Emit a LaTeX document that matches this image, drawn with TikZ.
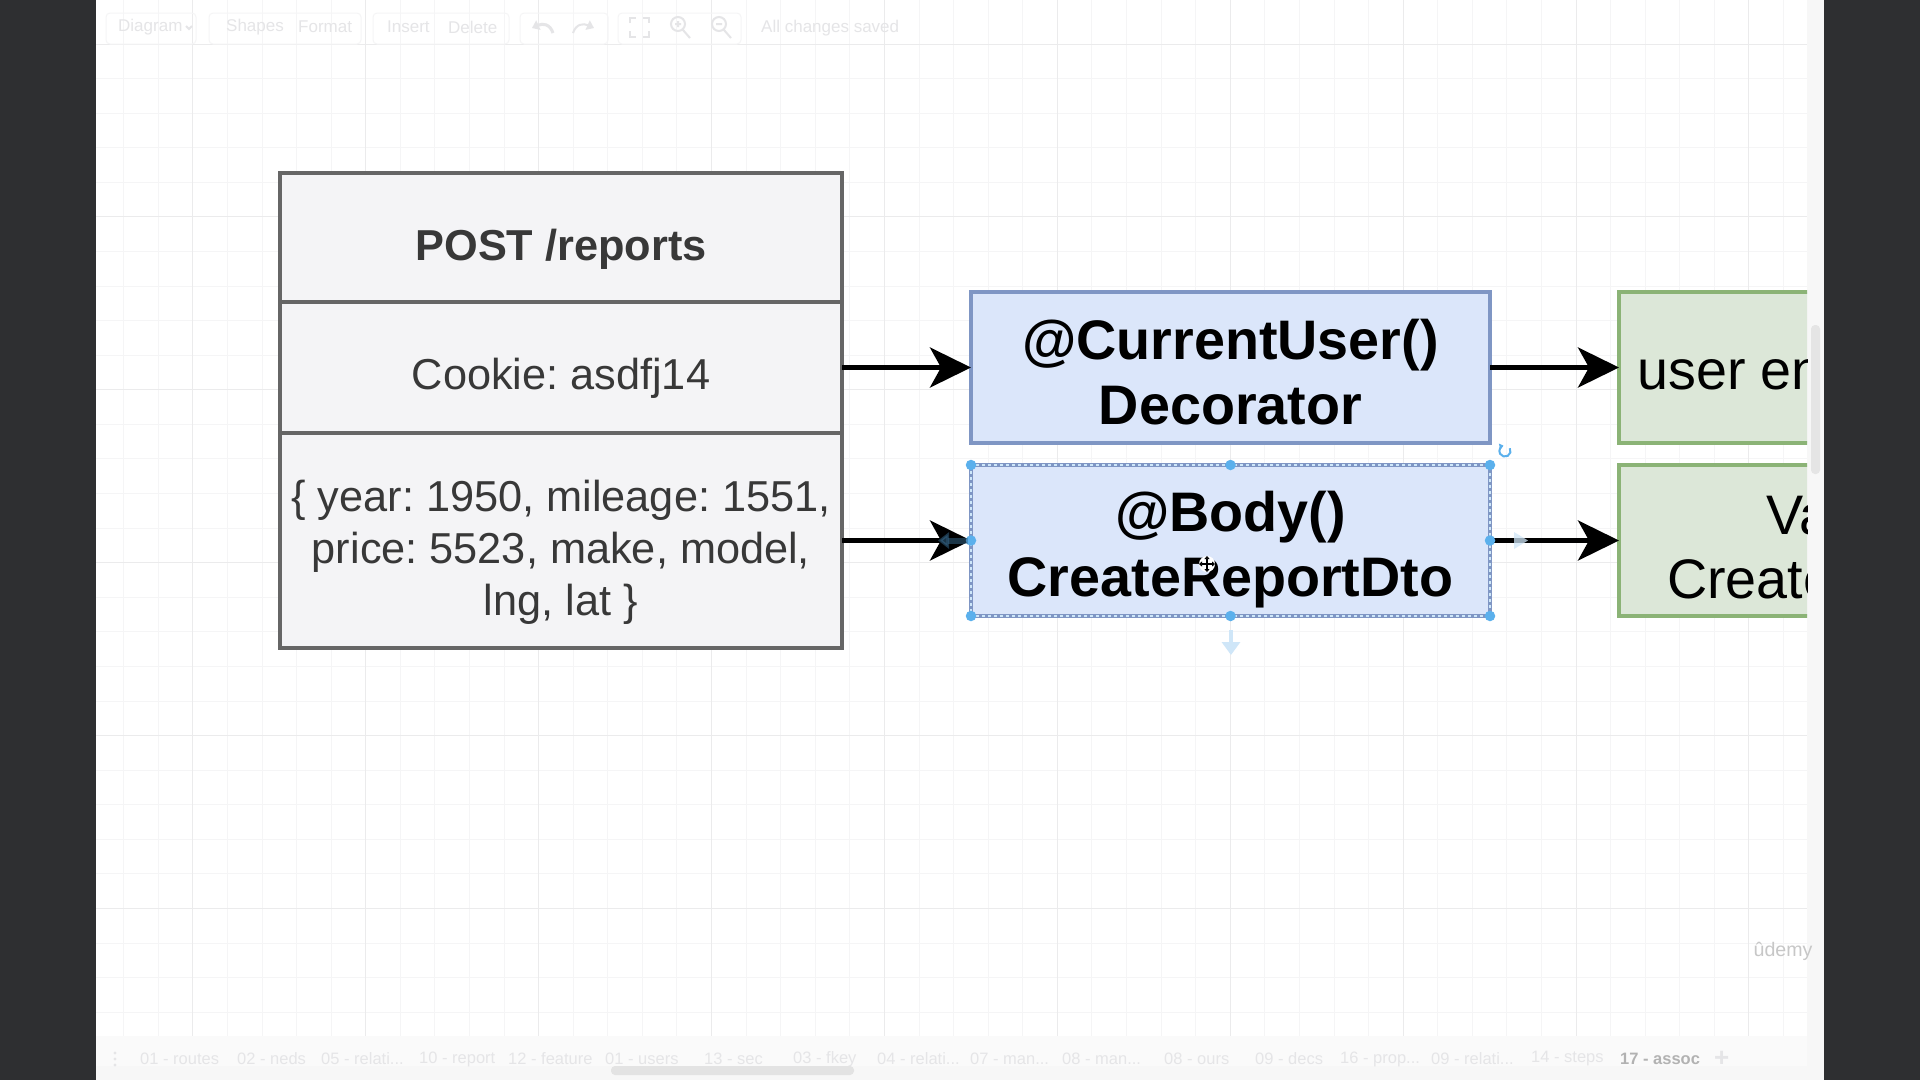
\documentclass[tikz,border=0pt]{standalone}
\usepackage{fontspec}
\setmainfont{Liberation Sans}
\usetikzlibrary{arrows.meta}
\AtBeginDocument{\frenchspacing}
\newcommand{\lowerby}[1]{\rule{0pt}{#1pt}}
\definecolor{darkside}{HTML}{2E2F31}
\definecolor{gridminor}{HTML}{F5F5F6}
\definecolor{gridmajor}{HTML}{EBEBEC}
\definecolor{tablefill}{HTML}{F4F4F6}
\definecolor{tableline}{HTML}{666666}
\definecolor{bluefill}{HTML}{DBE6FA}
\definecolor{blueline}{HTML}{7F96C4}
\definecolor{greenfill}{HTML}{DCE7D8}
\definecolor{greenline}{HTML}{8BB376}
\definecolor{handle}{HTML}{5BB0EC}
\definecolor{ghost}{HTML}{CFE6F8}
\definecolor{faint}{HTML}{E5E5E7}
\tikzset{
 cell/.style={draw=tableline,fill=tablefill,line width=4.2pt,minimum width=562pt,inner sep=0pt,outer sep=0pt,align=center,text=black!78,font=\fontsize{43.3}{52}\selectfont},
 bluebox/.style={draw=blueline,fill=bluefill,line width=4.4pt,minimum width=519pt,minimum height=151pt,inner sep=0pt,outer sep=0pt,align=center,font=\bfseries\fontsize{55.7}{65}\selectfont},
 greenbox/.style={draw=greenline,fill=greenfill,line width=4.4pt,minimum width=520pt,minimum height=151pt,inner sep=0pt,outer sep=0pt},
 greentext/.style={anchor=base west,inner sep=0pt,font=\fontsize{55.7}{65}\selectfont},
 flow/.style={line width=4.6pt,-{Stealth[length=41pt,width=40pt,inset=11pt]}},
 dot/.style={circle,fill=handle,minimum size=10.5pt,inner sep=0pt},
 ghostarrow/.style={line width=4pt,ghost,-{Triangle[length=13pt,width=18pt]}},
 menutext/.style={anchor=west,inner sep=0pt,text=faint,font=\fontsize{17}{20}\selectfont},
 tabtext/.style={anchor=west,inner sep=0pt,text=faint,font=\fontsize{16.5}{20}\selectfont},
 panel/.style={draw=gridminor,line width=1pt,rounded corners=4pt},
 iconline/.style={draw=faint,line width=2pt}
}
\begin{document}
\begin{tikzpicture}[x=1pt,y=-1pt]
\useasboundingbox (0,0) rectangle (1920,1080);
\fill[white] (0,0) rectangle (1920,1080);
% canvas grid
\begin{scope}
\clip (96,0) rectangle (1807,1080);
\foreach \i in {0,...,50} {
  \draw[gridminor,line width=1pt] ({123.7+34.58*\i},0) -- ({123.7+34.58*\i},1080);
}
\foreach \i in {0,...,31} {
  \draw[gridminor,line width=1pt] (96,{44+34.58*\i}) -- (1807,{44+34.58*\i});
}
\foreach \i in {0,...,9} {
  \draw[gridmajor,line width=1pt] ({192.8+172.9*\i},0) -- ({192.8+172.9*\i},1080);
}
\foreach \i in {0,...,5} {
  \draw[gridmajor,line width=1pt] (96,{44+172.9*\i}) -- (1807,{44+172.9*\i});
}
\end{scope}
% toolbar
\draw[panel] (106,13) rectangle (196,44);
\draw[panel] (209,13) rectangle (361,44);
\draw[panel] (373,13) rectangle (509,44);
\draw[panel] (520,13) rectangle (608,44);
\draw[panel] (618,13) rectangle (741,44);
\node[menutext] (mdiagram) at (118,27) {Diagram};
\node[menutext] (mshapes) at (226,27) {Shapes};
\node[menutext] (mformat) at (298,27) {Format};
\node[menutext] (minsert) at (387,27) {Insert};
\node[menutext] (mdelete) at (448,27) {Delete};
\node[menutext] (msaved) at (761,28) {All changes saved};
\draw[iconline] (186,26) -- (189,29) -- (192,26);
\draw[iconline,line width=3pt,-{Triangle[length=7pt,width=10pt]}] (553,33) .. controls (550,24) and (543,23) .. (532,28);
\draw[iconline,line width=2pt,-{Triangle[length=7pt,width=10pt]}] (573,33) .. controls (576,24) and (583,23) .. (594,28);
\draw[iconline] (630,23) -- (630,18) -- (636,18) (643,18) -- (649,18) -- (649,23) (630,31) -- (630,37) -- (636,37) (643,37) -- (649,37) -- (649,31);
\draw[iconline] (678,24) circle (7pt) (683,30) -- (690,38) (678,21) -- (678,27) (675,24) -- (681,24);
\draw[iconline] (719,24) circle (7pt) (724,30) -- (731,38) (716,24) -- (722,24);
% tab bar
\fill[white!98!black] (96,1036) rectangle (1807,1066);
\fill[white!97!black] (96,1066) rectangle (1807,1080);
\fill[faint] (115,1053) circle (1.7pt) (115,1059) circle (1.7pt) (115,1065) circle (1.7pt);
\foreach \t/\x in {{01 - routes}/140,{02 - neds}/237,{05 - relati...}/321,{10 - report}/419,{12 - feature}/508,{01 - users}/605,{13 - sec}/704,{03 - fkey}/793,{04 - relati...}/877,{07 - man...}/970,{08 - man...}/1062,{08 - ours}/1164,{09 - decs}/1255,{16 - prop...}/1340,{09 - relati...}/1431,{14 - steps}/1531} {
  \node[tabtext] at (\x,1059) {\t};
}
\node[tabtext,text=black!30,font=\bfseries\fontsize{16.5}{20}\selectfont] (tabcur) at (1620,1059) {17 - assoc};
\node[tabtext,font=\bfseries\fontsize{26}{26}\selectfont] (tabplus) at (1714,1059) {+};
\fill[black!11,rounded corners=4pt] (611,1066) rectangle (854,1075);
% right strip and scrollbar
\fill[white!97!black] (1807,0) rectangle (1824,1080);
\fill[black!10,rounded corners=4pt] (1811,325) rectangle (1820,474);
% watermark
\node[inner sep=0pt,text=black!22,font=\fontsize{19.6}{22}\selectfont] (udemy) at (1783,951) {ûdemy};
% table
\node[cell,minimum height=129pt] (title) at (561,237.5) {\lowerby{54}\bfseries POST /reports};
\node[cell,minimum height=131pt] (cookie) at (561,367.5) {\lowerby{53}Cookie: asdfj14};
\node[cell,minimum height=215pt] (body) at (561,540.5) {\lowerby{55}\{ year: 1950, mileage: 1551,\\price: 5523, make, model,\\lng, lat \}};
% blue boxes
\node[bluebox] (cur) at (1230.5,367.5) {\lowerby{49}@CurrentUser()\\Decorator};
\node[bluebox] (dto) at (1230.5,540.5) {\lowerby{59}@Body()\\CreateReportDto};
% green boxes, cut at the canvas edge
\begin{scope}
\clip (96,0) rectangle (1807,1080);
\node[greenbox] (ent) at (1879,367.5) {};
\node[greenbox] (val) at (1879,540.5) {};
\node[greentext] (entt) at (1637,389) {user en};
\node[greentext] (valt) at (1766,534) {Va};
\node[greentext] (valc) at (1667,598) {Create};
\end{scope}
% connectors
\draw[flow] (cookie.east) -- (cur.west);
\draw[flow] (body.east) -- (dto.west);
\draw[flow] (cur.east) -- (ent.west);
\draw[flow] (dto.east) -- (val.west);
% selection overlay
\draw[white!70!handle,line width=1.2pt,dash pattern=on 3pt off 3pt] (dto.north west) rectangle (dto.south east);
\node[dot] (hnw) at (dto.north west) {};
\node[dot] (hn) at (dto.north) {};
\node[dot] (hne) at (dto.north east) {};
\node[dot] (hw) at (dto.west) {};
\node[dot] (he) at (dto.east) {};
\node[dot] (hsw) at (dto.south west) {};
\node[dot] (hs) at (dto.south) {};
\node[dot] (hse) at (dto.south east) {};
\draw[opacity=.5,line width=6pt,handle!60!black,-{Triangle[length=11pt,width=16pt]}] (968,540.5) -- (938,540.5);
\fill[ghost,opacity=.75] (1514,532) -- (1528,540.5) -- (1514,549) -- cycle;
\draw[ghostarrow] (1231,630) -- (1231,655);
\draw[handle,line width=2pt,-{Triangle[length=4pt,width=6pt]}] (1509.8,448.2) arc[start angle=30,end angle=-255,radius=5.6pt];
% move cursor
\fill[white] (1207,564) circle (8pt);
\draw[black,line width=1.3pt,{Triangle[length=3pt,width=5pt]}-{Triangle[length=3pt,width=5pt]}] (1199,564) -- (1215,564);
\draw[black,line width=1.3pt,{Triangle[length=3pt,width=5pt]}-{Triangle[length=3pt,width=5pt]}] (1207,556) -- (1207,572);
% dark side bars
\fill[darkside] (0,0) rectangle (96,1080);
\fill[darkside] (1824,0) rectangle (1920,1080);
\end{tikzpicture}
\end{document}
